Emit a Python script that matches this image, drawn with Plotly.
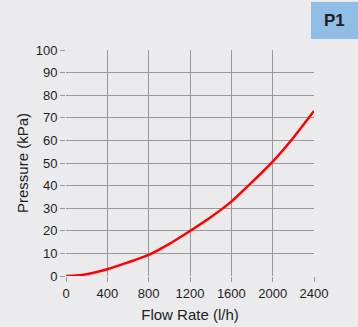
import plotly.graph_objects as go

flow = [0, 100, 200, 400, 600, 800, 1000, 1200, 1400, 1600, 1800, 2000, 2200, 2400]
pressure = [0, 0.2, 0.8, 3.0, 6.0, 9.3, 14.2, 19.9, 26.0, 32.9, 41.5, 50.6, 61.2, 73.0]
x_ticks = [0, 400, 800, 1200, 1600, 2000, 2400]
y_ticks = [0, 10, 20, 30, 40, 50, 60, 70, 80, 90, 100]

W, H = 358, 327
L, R, T, B = 66, 44, 50, 51
pw, ph = W - L - R, H - T - B

def px(x):
    return (x - L) / pw

def py(y):
    return (H - B - y) / ph

bg = "#ebebed"
fig = go.Figure(go.Scatter(x=flow, y=pressure, mode="lines", line=dict(color="#ff0000", width=2.5, shape="spline", smoothing=0.6)))
fig.update_layout(
    width=W, height=H, margin=dict(l=L, r=R, t=T, b=B, autoexpand=False),
    paper_bgcolor=bg, plot_bgcolor=bg, showlegend=False,
    font=dict(family="Liberation Sans, Arial, sans-serif", color="#1e1e1e", size=13),
)
axis_common = dict(showgrid=True, gridcolor="#999999", gridwidth=1, zeroline=False,
                   ticks="outside", ticklen=5, tickcolor="#999999", showline=False,
                   automargin=False, tickfont=dict(size=13, color="#1e1e1e"))
fig.update_xaxes(range=[0, 2400], tickvals=x_ticks, ticktext=[str(v) for v in x_ticks],
                 title=dict(text="Flow Rate (l/h)", font=dict(size=15), standoff=9), **axis_common)
fig.update_yaxes(range=[0, 100], tickvals=y_ticks, ticktext=[str(v) for v in y_ticks],
                 title=dict(text="Pressure (kPa)", font=dict(size=15), standoff=3), **axis_common)
fig.add_shape(type="rect", xref="paper", yref="paper", x0=px(311), x1=px(359), y0=py(39), y1=py(2),
              fillcolor="#8fbde6", line=dict(width=0), layer="above")
fig.add_annotation(xref="paper", yref="paper", x=px(334), y=py(20.5), text="<b>P1</b>", showarrow=False,
                   font=dict(size=17, color="#1e1e1e"), xanchor="center", yanchor="middle")
fig.write_html("out.html", config={"displayModeBar": False},
               post_script="document.body.style.margin='0px';document.body.style.overflow='hidden';")
